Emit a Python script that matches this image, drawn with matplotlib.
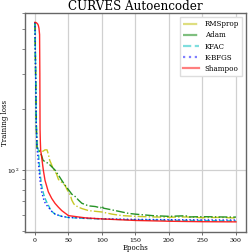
import numpy as np
import matplotlib
matplotlib.use("Agg")
import matplotlib.pyplot as plt
from matplotlib.ticker import NullFormatter, LogLocator

plt.rcParams['font.family'] = ['DejaVu Serif']
plt.rcParams['mathtext.fontset'] = 'dejavuserif'

# Training loss curves (epoch, loss)
rms_epochs = [0, 1, 2, 3, 5, 8, 12, 15, 18, 20, 22, 25, 27, 30, 32, 35, 38, 40, 45, 48, 50,
              53, 55, 58, 60, 65, 70, 80, 90, 100, 115, 130, 150, 175, 200, 225, 250, 275, 300]
rms_loss = [540, 300, 170, 130, 125, 125, 124, 126, 126, 120, 112, 106, 102, 98, 96, 90, 88, 87, 84, 80, 78,
            75, 71, 68, 67, 65.5, 64.5, 63, 62.5, 62, 60.5, 59.5, 59, 58.6, 58.4, 58.6, 58.1, 58.3, 57.9]

adam_epochs = [0, 1, 2, 3, 5, 8, 10, 12, 15, 20, 25, 30, 35, 40, 45, 50, 55, 60, 65, 70, 80, 90,
               98, 100, 102, 110, 120, 130, 140, 150, 175, 200, 225, 230, 250, 275, 300]
adam_loss = [540, 300, 170, 130, 126, 122, 118, 112, 110, 108, 104, 100, 94.5, 89, 84, 80, 76, 74, 71, 68.5,
             66.5, 66, 65, 66.5, 64.8, 64, 63, 62, 61, 60.5, 59.5, 59, 59.4, 58.6, 58.8, 58.6, 58.5]

kfac_epochs = [0, 1, 2, 3, 5, 7.5, 10, 12.5, 15, 17.5, 20, 22.5, 25, 30, 40, 50, 75, 100, 150, 200, 250, 300]
kfac_loss = [540, 300, 170, 135, 125, 97, 84, 77, 72.5, 69.5, 67, 64.5, 62.5, 60.5, 59, 58.2, 57.6, 57.2,
             56.7, 56.4, 56.2, 56.0]

kbfgs_epochs = [0, 1, 2, 3, 5, 7.5, 10, 12.5, 15, 17.5, 20, 25, 30, 40, 50, 75, 100, 150, 200, 250, 300]
kbfgs_loss = [540, 300, 170, 130, 110, 89, 78, 72.5, 69, 67, 65.5, 62.5, 60.5, 59, 58.3, 57.8, 57.4, 57,
              56.8, 56.7, 56.6]

shampoo_epochs = [0, 2, 4, 5, 6, 6.9, 7.3, 7.6, 8, 8.5, 10, 12.5, 15, 20, 25, 30, 35, 40, 50, 75, 100,
                  150, 200, 250, 300]
shampoo_loss = [540, 538, 530, 522, 505, 470, 300, 160, 140, 126, 116, 100, 89, 78, 72.4, 68.4, 65.5, 63,
                59.5, 58, 57.3, 56.3, 55.8, 55.5, 55.4]

fig = plt.figure(figsize=(2.49, 2.52), dpi=100)
ax = fig.add_axes([0.1, 0.079, 0.888, 0.869])

ax.plot(rms_epochs, rms_loss, color='y', ls='-.', lw=1.0, alpha=0.85, label='RMSprop')
ax.plot(adam_epochs, adam_loss, color='g', ls='-.', lw=1.0, alpha=0.85, label='Adam')
ax.plot(kfac_epochs, kfac_loss, color='c', ls='--', lw=1.0, alpha=0.85, label='KFAC')
ax.plot(kbfgs_epochs, kbfgs_loss, color='b', ls=':', lw=1.0, alpha=0.85, label='K-BFGS')
ax.plot(shampoo_epochs, shampoo_loss, color='r', ls='-', lw=1.0, alpha=0.85, label='Shampoo')

ax.set_yscale('log')
ax.set_ylim(49.3, 600)
ax.set_xlim(-15, 315)
ax.set_xticks(np.arange(0, 301, 50))
ax.yaxis.set_minor_formatter(NullFormatter())
ax.yaxis.set_minor_locator(LogLocator(base=10, subs=np.arange(2, 10)))
ax.tick_params(labelsize=4.5, length=2.5, width=0.6, color='#555555', pad=1.5)
ax.tick_params(which='minor', length=2, width=0.5, color='#555555')
ax.grid(True, which='major', color='#d0d0d0', lw=0.9)

for s in ax.spines.values():
    s.set_color('#666666')
    s.set_linewidth(1.0)

ax.set_title('CURVES Autoencoder', fontsize=8.6, pad=2)
ax.set_xlabel('Epochs', fontsize=5, labelpad=1)
ax.set_ylabel('Training loss', fontsize=5)
ax.yaxis.set_label_coords(-0.072, 0.5)

leg = ax.legend(loc='upper right', fontsize=5.1, framealpha=1, edgecolor='#dddddd', fancybox=False,
                handlelength=2.2, borderpad=0.5, labelspacing=0.45)
for line in leg.get_lines():
    line.set_linewidth(1.6)
    line.set_alpha(0.5)

fig.savefig('out.png', dpi=100)
